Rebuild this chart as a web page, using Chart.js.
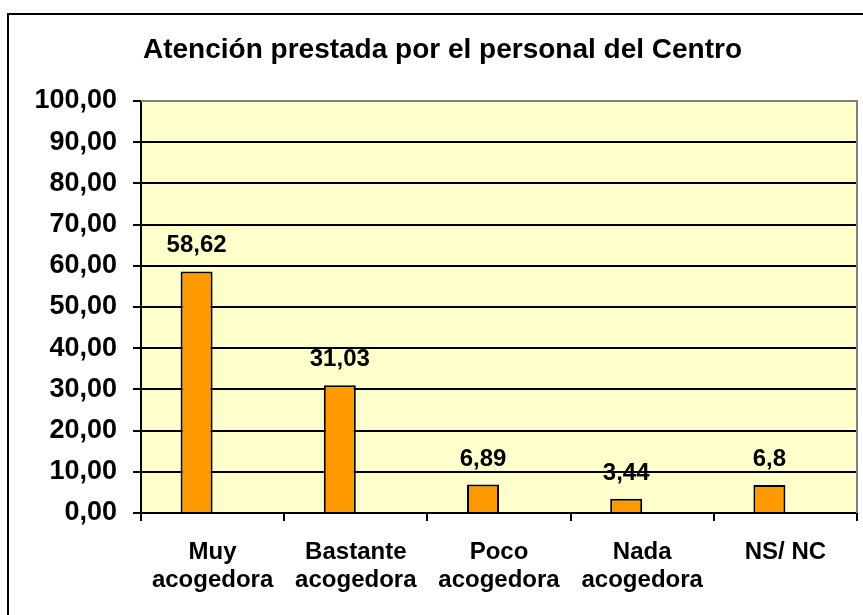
<!DOCTYPE html>
<html>
<head>
<meta charset="utf-8">
<script src="https://cdn.jsdelivr.net/npm/chart.js@4"></script>
<style>
  html, body { margin: 0; padding: 0; background: #fff; overflow: hidden; }
  #frame { position: absolute; left: 7px; top: 13px; width: 870px; height: 640px; border: 2px solid #000; box-sizing: border-box; }
  #wrap { position: absolute; left: 0; top: 0; width: 863px; height: 615px; }
</style>
</head>
<body>
<div id="frame"></div>
<div id="wrap"><canvas id="myChart"></canvas></div>
<script>
// Chart data
var categories = [["Muy", "acogedora"], ["Bastante", "acogedora"], ["Poco", "acogedora"], ["Nada", "acogedora"], ["NS/ NC"]];
var values = [58.62, 31.03, 6.89, 3.44, 6.8];
var emptySeries = [null, null, null, null, null];
var yTicks = [0, 10, 20, 30, 40, 50, 60, 70, 80, 90, 100];

var FONT = "Arial, 'Liberation Sans', sans-serif";

function comma(v, dec) {
  var s = dec === undefined ? String(v) : v.toFixed(dec);
  return s.replace(".", ",");
}

// yellow plot background + gray top/right frame
var plotFrame = {
  id: "plotFrame",
  beforeDraw: function (chart) {
    var a = chart.chartArea, c = chart.ctx;
    c.save();
    c.fillStyle = "#FFFFCC";
    c.fillRect(a.left, a.top, a.right - a.left, a.bottom - a.top);
    c.restore();
  },
  afterDraw: function (chart) {
    var a = chart.chartArea, c = chart.ctx;
    c.save();
    c.strokeStyle = "#808080";
    c.lineWidth = 2;
    c.beginPath();
    c.moveTo(a.left, a.top);
    c.lineTo(a.right, a.top);
    c.lineTo(a.right, a.bottom);
    c.stroke();
    c.restore();
  }
};

// value labels above the bars
var barLabels = {
  id: "barLabels",
  afterDatasetsDraw: function (chart) {
    var c = chart.ctx;
    var meta = chart.getDatasetMeta(0);
    c.save();
    c.font = "bold 24px " + FONT;
    c.fillStyle = "#000";
    c.textAlign = "center";
    c.textBaseline = "alphabetic";
    meta.data.forEach(function (bar, i) {
      c.fillText(comma(values[i]), bar.x, bar.y - 19);
    });
    c.restore();
  }
};

var ctx = document.getElementById("myChart").getContext("2d");

var myChart = new Chart(ctx, {
  type: "bar",
  data: {
    labels: categories,
    datasets: [
      {
        data: values,
        backgroundColor: "#FF9900",
        borderColor: "#000000",
        borderWidth: 2,
        categoryPercentage: 0.447,
        barPercentage: 1,
      },
      {
        data: emptySeries,
        categoryPercentage: 0.447,
        barPercentage: 1,
      },
    ],
  },
  plugins: [plotFrame, barLabels],
  options: {
    responsive: true,
    maintainAspectRatio: false,
    animation: false,
    layout: { padding: { left: 28, right: 6, top: 0, bottom: 0 } },
    plugins: {
      legend: { display: false },
      tooltip: { enabled: false },
      title: {
        display: true,
        text: "Atención prestada por el personal del Centro",
        color: "#000",
        font: { family: FONT, size: 28, weight: "bold", lineHeight: 1.2 },
        padding: { top: 33, bottom: 34.4 },
      },
    },
    scales: {
      x: {
        offset: true,
        grid: { display: true, drawOnChartArea: false, offset: true, color: "#000", lineWidth: 2, tickLength: 8 },
        border: { color: "#000", width: 2 },
        ticks: {
          color: "#000",
          padding: 17,
          maxRotation: 0,
          autoSkip: false,
          font: { family: FONT, size: 24, weight: "bold", lineHeight: 1.18 },
        },
        afterFit: function (scale) { scale.height = 615 - 513; },
      },
      y: {
        min: 0,
        max: 100,
        afterBuildTicks: function (scale) {
          scale.ticks = yTicks.map(function (v) { return { value: v }; });
        },
        grid: {
          color: function (c) { return c.tick && c.tick.value === 100 ? "#808080" : "#000"; },
          lineWidth: 2,
          tickLength: 8,
          tickColor: "#000",
        },
        border: { color: "#000", width: 2 },
        ticks: {
          color: "#000",
          padding: 16,
          font: { family: FONT, size: 27, weight: "bold" },
          callback: function (v) { return comma(v, 2); },
        },
        afterFit: function (scale) { scale.width = 141 - 28; },
      },
    },
  },
});
</script>
</body>
</html>
